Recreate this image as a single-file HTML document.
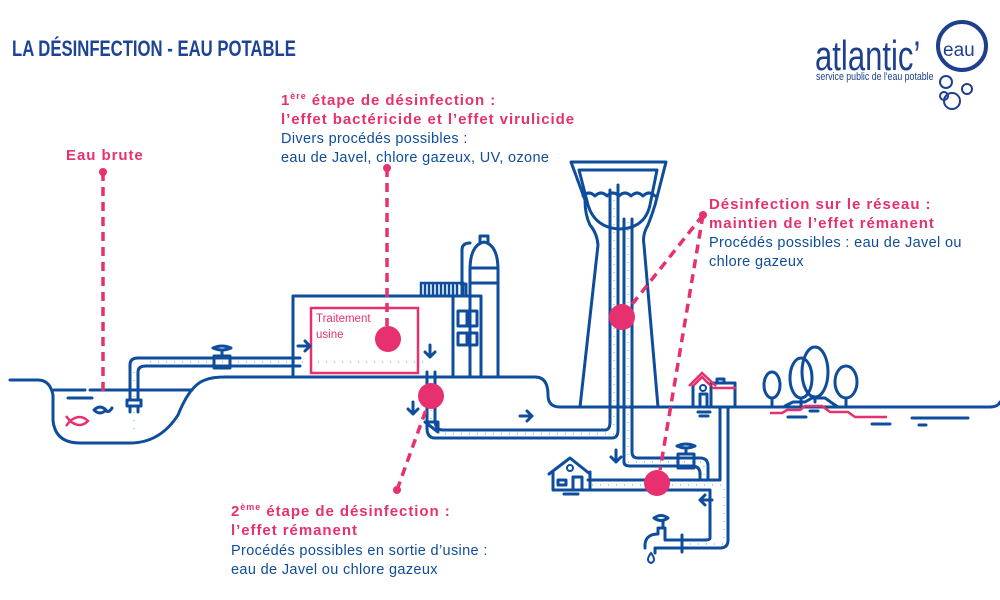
<!DOCTYPE html>
<html><head><meta charset="utf-8"><style>
html,body{margin:0;padding:0;background:#fff;width:1000px;height:600px;overflow:hidden}
svg{display:block}
.b{fill:none;stroke:#0e4c9c;stroke-width:3;stroke-linejoin:round;stroke-linecap:round}
.t{fill:none;stroke:#0e4c9c;stroke-width:2.5}
.dot{fill:none;stroke:#5cc0ec;stroke-width:1.2;stroke-dasharray:1 7}
.pd{fill:none;stroke:#e6306f;stroke-width:3.5;stroke-dasharray:9 6}
.pk{fill:#e6306f}
text{font-family:"Liberation Sans",sans-serif}
.h{fill:#e6306f;font-weight:bold;font-size:15px;letter-spacing:0.95px}
.n{fill:#0e4c9c;font-size:14.5px;letter-spacing:0.35px}
</style></head><body>
<svg width="1000" height="600" viewBox="0 0 1000 600">
<text x="12" y="56" fill="#1e4495" font-weight="bold" font-size="22" transform="scale(0.76,1)" transform-origin="12 56">LA DÉSINFECTION - EAU POTABLE</text>
<!-- logo -->
<text x="815" y="70" fill="#1e3f8e" font-size="42" transform="scale(0.74,1)" transform-origin="815 70">atlantic’</text>
<circle cx="962" cy="46" r="24" fill="none" stroke="#1e3f8e" stroke-width="4"/>
<text x="943" y="56" fill="#1e3f8e" font-size="19">eau</text>
<text x="816" y="80" fill="#1e3f8e" font-size="11" transform="scale(0.8,1)" transform-origin="816 80">service public de l'eau potable</text>
<circle cx="946" cy="82" r="6" fill="none" stroke="#1e3f8e" stroke-width="2"/>
<circle cx="967" cy="89" r="5" fill="none" stroke="#1e3f8e" stroke-width="2"/>
<circle cx="952" cy="101" r="8" fill="none" stroke="#1e3f8e" stroke-width="2"/>
<circle cx="944" cy="96" r="4" fill="none" stroke="#1e3f8e" stroke-width="2"/>

<!-- ground & lake -->
<path class="b" d="M10 380 H38 Q50 380 53 395 V420 Q55 443 80 443 H130 Q160 443 178 415 Q190 385 205 380 Q212 377 225 377 H535 Q548 377 548 395 Q548 407 560 407 H990 Q998 407 1000 402"/>
<path class="b" d="M54 390 H85 M90 390 H192"/>
<path class="b" d="M68 398 H92"/>
<path d="M94 410 Q100 404 106 410 Q108 414 112 408 M94 410 Q100 416 106 410" class="b" stroke-width="2.5"/>
<path d="M70 421 Q80 413 88 421 Q80 429 70 421 M70 421 L66 416 M70 421 L66 426" fill="none" stroke="#e6306f" stroke-width="2.5"/>

<!-- intake pipe -->
<path class="b" d="M130 400 V365 Q130 358 138 358 H300 M138 400 V372 Q138 366 146 366 H300"/>
<path class="b" d="M127 400 H141 V406 H127Z M130 406 V412 M138 406 V412"/>
<path class="dot" d="M134 372 V430 M150 362 H430"/>
<path class="b" d="M214 356 V368 H230 V356Z M222 356 V350 M213 348 Q222 344 231 348 Q222 352 213 348"/>
<!-- factory -->
<path class="b" d="M293 377 V296 H453 M453 377 V296 H481 V377"/>
<path class="b" d="M470 377 V270 Q470 245 484 242 Q498 245 498 270 V377 M470 268 H498 M470 283 H498 M480 242 V236 H488 V242 M462 296 V250 Q462 243 470 243 M466 296 V284 H461"/>
<path class="t" d="M421 283 H463 V296 H421Z" stroke-width="2"/>
<path class="t" d="M425 284 V295 M429 284 V295 M433 284 V295 M437 284 V295 M441 284 V295 M445 284 V295 M449 284 V295 M453 284 V295 M457 284 V295" stroke-width="1.5"/>
<path class="b" d="M458 311 H477 V326 H458Z M467 311 V326 M458 333 H477 V345 H458Z M467 333 V345" stroke-width="2.5"/>
<rect x="311" y="308" width="107" height="65" fill="none" stroke="#e6306f" stroke-width="2.5"/>
<text x="316" y="322" fill="#e6306f" font-size="11.5">Traitement</text>
<text x="316" y="338" fill="#e6306f" font-size="11.5">usine</text>
<path class="b" d="M298 346 H310 M305 341 L310 346 L305 351" stroke-width="2"/>
<path class="b" d="M430 345 V357 M425 352 L430 357 L435 352" stroke-width="2"/>
<path class="b" d="M413 402 V414 M408 409 L413 414 L418 409" stroke-width="2"/>
<!-- factory outflow pipe -->
<path class="b" d="M427 372 V428 Q427 438 435 438 H612 Q618 438 618 430 V185 M435 372 V420 Q435 430 443 430 H605 Q610 430 610 422 V190"/>
<path class="b" d="M425 422 H438 V432 Z" stroke-width="2"/>
<path class="dot" d="M431 378 V425 M445 434 H614 M614 425 V190"/>
<path class="b" d="M520 416 H532 M527 411 L532 416 L527 421" stroke-width="2"/>
<!-- water tower -->
<path class="b" d="M580 407 L598 245 Q597 233 590 225 Q585 215 585 200 L571 162 H666 L655 205 Q652 215 648 225 Q642 235 644 245 L658 407"/>
<path class="b" d="M579 170 H657 L650 205 Q645 228 620 229 Q595 228 588 205 Z"/>
<path class="b" d="M583 196 Q589 190 595 196 Q601 190 607 196 Q613 190 619 196 Q625 190 631 196 Q637 190 643 196 Q649 190 655 196" stroke-width="2"/>
<path class="b" d="M624 219 V462 Q624 466 630 466 H692 Q700 466 700 474 V478 M632 219 V452 Q632 458 638 458 H700 Q708 458 708 466 V480"/>
<path class="dot" d="M628 222 V462 H704 V478"/>
<path class="b" d="M678 454 V468 H694 V454Z M686 454 V448 M677 446 Q686 442 695 446 Q686 450 677 446" stroke-width="2.5"/>
<path class="b" d="M616 450 V462 M611 457 L616 462 L621 457" stroke-width="2"/>
<!-- distribution -->
<path class="b" d="M588 480 H720 V407 M588 490 H710 V538 Q710 540 705 540 H683 M728 407 V540 Q728 548 720 548 H683"/>
<path class="dot" d="M592 485 H724 V544 H686"/>
<path class="b" d="M700 500 H712 M705 495 L700 500 L705 505" stroke-width="2"/>
<path class="b" d="M682 535 V552 M682 540 H665 V528 H658 V534 Q644 534 645 548 M682 548 H666 Q660 548 655 548 V553 M663 528 V522 M654 518 Q661 513 668 518 Q661 523 654 518"/>
<path d="M651 553 Q657 561 651 563 Q645 561 651 553Z" fill="none" stroke="#0e4c9c" stroke-width="2"/>
<!-- small house -->
<path class="b" d="M549 474 L570 458 L590 474 M553 472 V490 H590 V472 M573 490 V477 H582 V490 M558 480 H566 V485 H558Z M564 494 H578"/>
<circle cx="570" cy="468" r="3" fill="none" stroke="#0e4c9c" stroke-width="2"/>
<!-- house on ground -->
<path class="b" d="M693 407 V386 M711 407 V383 H735 V407 M717 383 V379 H724 V383 M700 407 V394 H707 V407 M698 412 H710 M700 416 H708" stroke-width="2.5"/>
<circle cx="703" cy="388" r="3" fill="none" stroke="#0e4c9c" stroke-width="2"/>
<path d="M689 386 L702 373 L716 386 M693 386 L702 377 L711 386 M712 388 H736" fill="none" stroke="#e6306f" stroke-width="2.5"/>
<!-- trees -->
<ellipse cx="772" cy="385" rx="8" ry="13" class="b"/><path class="b" d="M772 398 V407"/>
<ellipse cx="801" cy="378" rx="11" ry="20" class="b"/><path class="b" d="M801 398 V407"/>
<ellipse cx="815" cy="372" rx="13" ry="25" class="b"/><path class="b" d="M815 397 V402"/>
<ellipse cx="846" cy="382" rx="11" ry="16" class="b"/><path class="b" d="M846 398 V407"/>
<path class="b" d="M785 406 L793 402 H805 L812 398 H825 L832 403 L838 407"/>
<path d="M770 413 H782 L787 410 H800 L805 406 H822 L830 412 H848 L855 417 H887" fill="none" stroke="#e6306f" stroke-width="2.5"/>
<path class="b" d="M788 417 H806 M810 411 H818 M872 424 H890 M912 418 H968 M919 425 H926" stroke-width="2.5"/>
<!-- pink connectors -->
<path class="pd" d="M103 172 V395"/>
<circle cx="103" cy="172" r="4" class="pk"/>
<path class="pd" d="M387 168 V326"/>
<circle cx="387" cy="168" r="4" class="pk"/>
<path class="pd" d="M397 490 L431 396"/>
<circle cx="397" cy="490" r="4" class="pk"/>
<path class="pd" d="M703 215 L622 317 M703 215 L660 470"/>
<circle cx="703" cy="215" r="4" class="pk"/>
<circle cx="388" cy="339" r="13" class="pk"/>
<circle cx="431" cy="396" r="13" class="pk"/>
<circle cx="622" cy="317" r="13" class="pk"/>
<circle cx="657" cy="483" r="13" class="pk"/>
<!-- text -->
<text x="66" y="160" class="h">Eau brute</text>
<text x="281" y="105" class="h">1<tspan font-size="9" dy="-6">ère</tspan><tspan dy="6"> étape de désinfection :</tspan></text>
<text x="281" y="124" class="h">l’effet bactéricide et l’effet virulicide</text>
<text x="281" y="143" class="n">Divers procédés possibles :</text>
<text x="281" y="162" class="n">eau de Javel, chlore gazeux, UV, ozone</text>
<text x="709" y="209" class="h">Désinfection sur le réseau :</text>
<text x="709" y="228" class="h">maintien de l’effet rémanent</text>
<text x="709" y="247" class="n">Procédés possibles : eau de Javel ou</text>
<text x="709" y="266" class="n">chlore gazeux</text>
<text x="231" y="516" class="h">2<tspan font-size="9" dy="-6">ème</tspan><tspan dy="6"> étape de désinfection :</tspan></text>
<text x="231" y="535" class="h">l’effet rémanent</text>
<text x="231" y="555" class="n">Procédés possibles en sortie d’usine :</text>
<text x="231" y="574" class="n">eau de Javel ou chlore gazeux</text>
</svg>
</body></html>
